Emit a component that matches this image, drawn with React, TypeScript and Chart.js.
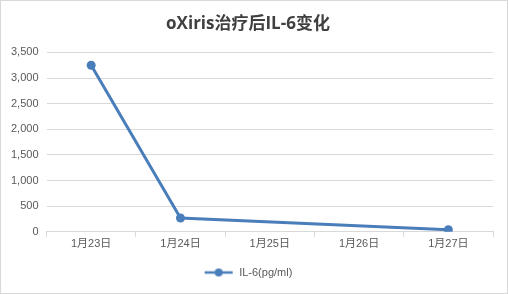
import React, { useEffect, useRef } from "react";
import { Chart, registerables } from "chart.js";

Chart.register(...registerables);

const categories = ["1月23日", "1月24日", "1月25日", "1月26日", "1月27日"];
const il6Values: (number | null)[] = [3250, 270, null, null, 40];
const seriesName = "IL-6(pg/ml)";
const titleText = "oXiris治疗后IL-6变化";

const LINE = "#4a7ebb";
const TXT = "#595959";
const GRID = "#d9d9d9";

function legendIcon(): HTMLCanvasElement {
  const c = document.createElement("canvas");
  c.width = 30;
  c.height = 10;
  const ctx = c.getContext("2d")!;
  ctx.strokeStyle = LINE;
  ctx.lineWidth = 2.5;
  ctx.beginPath();
  ctx.moveTo(1, 5);
  ctx.lineTo(29, 5);
  ctx.stroke();
  ctx.fillStyle = LINE;
  ctx.beginPath();
  ctx.arc(15, 5, 4, 0, Math.PI * 2);
  ctx.fill();
  return c;
}

export default function App() {
  const ref = useRef<HTMLCanvasElement>(null);
  useEffect(() => {
    document.body.style.margin = "0";
    const icon = legendIcon();
    const chart = new Chart(ref.current!, {
      type: "line",
      data: {
        labels: categories,
        datasets: [
          {
            label: seriesName,
            data: il6Values,
            borderColor: LINE,
            backgroundColor: LINE,
            borderWidth: 3,
            pointRadius: 4.5,
            pointHoverRadius: 4.5,
            pointBackgroundColor: LINE,
            pointBorderWidth: 0,
            spanGaps: true,
            tension: 0,
          },
        ],
      },
      options: {
        animation: false,
        responsive: false,
        maintainAspectRatio: false,
        layout: { padding: { left: 2, right: 14, top: 6, bottom: 5 } },
        plugins: {
          title: {
            display: true,
            text: titleText,
            color: "#404040",
            font: { family: "'Open Sans', 'Noto Sans CJK SC', sans-serif", size: 17, weight: "bold" },
            padding: { top: 7, bottom: 18 },
          },
          legend: {
            position: "bottom",
            labels: {
              color: TXT,
              font: { family: "'Liberation Sans', 'Noto Sans CJK SC', sans-serif", size: 11 },
              usePointStyle: true,
              pointStyleWidth: 30,
              padding: 16,
              generateLabels: (ch: any) =>
                ch.data.datasets.map((d: any, i: number) => ({
                  text: d.label,
                  pointStyle: icon,
                  fontColor: TXT,
                  strokeStyle: LINE,
                  fillStyle: LINE,
                  lineWidth: 0,
                  datasetIndex: i,
                })),
            },
          },
          tooltip: { enabled: false },
        },
        scales: {
          x: {
            offset: true,
            grid: {
              display: true,
              offset: true,
              drawOnChartArea: false,
              drawTicks: true,
              tickLength: 5,
              color: GRID,
            },
            border: { display: true, color: GRID },
            ticks: {
              color: TXT,
              font: { family: "'Liberation Sans', 'Noto Sans CJK SC', sans-serif", size: 11 },
              padding: 0.5,
            },
          },
          y: {
            min: 0,
            max: 3500,
            ticks: {
              stepSize: 500,
              color: TXT,
              font: { family: "'Liberation Sans', sans-serif", size: 11 },
              padding: 8,
            },
            grid: { color: GRID, drawTicks: false },
            border: { display: false },
          },
        },
      },
    });
    return () => chart.destroy();
  }, []);
  return (
    <div
      style={{
        width: 508,
        height: 294,
        boxSizing: "border-box",
        border: "1px solid #d9d9d9",
        background: "#fff",
        position: "relative",
      }}
    >
      <canvas ref={ref} width={506} height={292} style={{ display: "block" }} />
    </div>
  );
}
